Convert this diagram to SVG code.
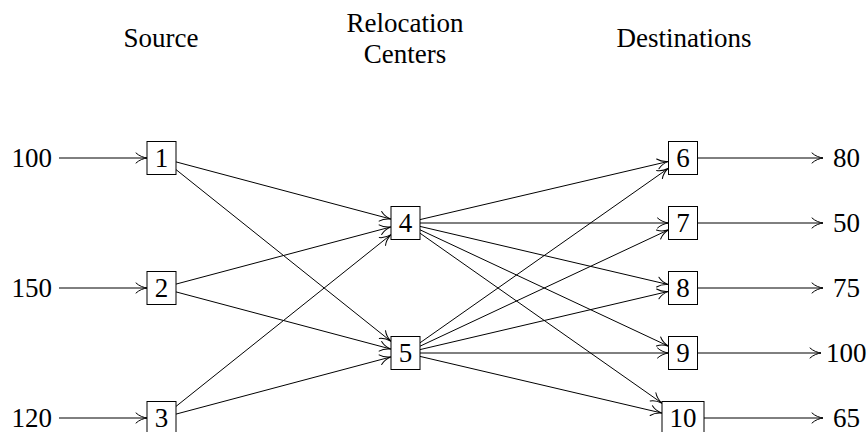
<svg xmlns="http://www.w3.org/2000/svg" width="868" height="432" viewBox="0 0 868 432">
  <style>
    .t { font-family: "Liberation Serif", "Times New Roman", serif; font-size: 27px; fill: #000; }
    .num { text-anchor: middle; }
    .hd { text-anchor: middle; }
    .box { fill: #fff; stroke: #000; stroke-width: 1; }
    .edge { stroke: #000; stroke-width: 1; fill: none; marker-end: url(#arr); }
  </style>
  <defs>
    <marker id="arr" markerUnits="userSpaceOnUse" viewBox="-12 -6 14 12" refX="0" refY="0" markerWidth="14" markerHeight="12" orient="auto">
      <path d="M -11,-5 C -8,-2 -3,-0.4 0,0 C -3,0.4 -8,2 -11,5" fill="none" stroke="#000" stroke-width="1" stroke-linecap="round"/>
    </marker>
  </defs>

  <g id="headings" class="t" font-family="Liberation Serif, Times New Roman, serif">
    <text class="hd" x="161" y="47">Source</text>
    <text class="hd" x="405" y="32">Relocation</text>
    <text class="hd" x="405" y="63">Centers</text>
    <text class="hd" x="684" y="47">Destinations</text>
  </g>

  <g id="connectors">
    <line class="edge" x1="59" y1="158" x2="147" y2="158"/>
    <line class="edge" x1="59" y1="288" x2="147" y2="288"/>
    <line class="edge" x1="59" y1="418" x2="147" y2="418"/>
    <line class="edge" x1="176" y1="161.9" x2="391" y2="219.1"/>
    <line class="edge" x1="176" y1="169.6" x2="391" y2="341.4"/>
    <line class="edge" x1="176" y1="284.1" x2="391" y2="226.9"/>
    <line class="edge" x1="176" y1="291.9" x2="391" y2="349.1"/>
    <line class="edge" x1="176" y1="406.4" x2="391" y2="234.6"/>
    <line class="edge" x1="176" y1="414.1" x2="391" y2="356.9"/>
    <line class="edge" x1="420" y1="219.6" x2="668.5" y2="161.4"/>
    <line class="edge" x1="420" y1="223" x2="668.5" y2="223"/>
    <line class="edge" x1="420" y1="226.4" x2="668.5" y2="284.6"/>
    <line class="edge" x1="420" y1="229.8" x2="668.5" y2="346.2"/>
    <line class="edge" x1="420" y1="233.2" x2="662" y2="403.2"/>
    <line class="edge" x1="420" y1="342.8" x2="668.5" y2="168.2"/>
    <line class="edge" x1="420" y1="346.2" x2="668.5" y2="229.8"/>
    <line class="edge" x1="420" y1="349.6" x2="668.5" y2="291.4"/>
    <line class="edge" x1="420" y1="353" x2="668.5" y2="353"/>
    <line class="edge" x1="420" y1="356.4" x2="662" y2="413.1"/>
    <line class="edge" x1="698" y1="158" x2="823" y2="158"/>
    <line class="edge" x1="698" y1="223" x2="823" y2="223"/>
    <line class="edge" x1="698" y1="288" x2="823" y2="288"/>
    <line class="edge" x1="698" y1="353" x2="821" y2="353"/>
    <line class="edge" x1="704" y1="418" x2="823" y2="418"/>
  </g>

  <g id="supply-labels" class="t" font-family="Liberation Serif, Times New Roman, serif">
    <text x="52" y="167" text-anchor="end">100</text>
    <text x="52" y="297" text-anchor="end">150</text>
    <text x="52" y="427" text-anchor="end">120</text>
  </g>
  <g id="demand-labels" class="t" font-family="Liberation Serif, Times New Roman, serif">
    <text x="860" y="167" text-anchor="end">80</text>
    <text x="860" y="232" text-anchor="end">50</text>
    <text x="860" y="297" text-anchor="end">75</text>
    <text x="826" y="362">100</text>
    <text x="860" y="427" text-anchor="end">65</text>
  </g>

  <g id="n1" class="t" font-family="Liberation Serif, Times New Roman, serif"><rect class="box" x="147" y="141.5" width="29" height="33"/><text class="num" x="161.5" y="167">1</text></g>
  <g id="n2" class="t" font-family="Liberation Serif, Times New Roman, serif"><rect class="box" x="147" y="271.5" width="29" height="33"/><text class="num" x="161.5" y="297">2</text></g>
  <g id="n3" class="t" font-family="Liberation Serif, Times New Roman, serif"><rect class="box" x="147" y="401.5" width="29" height="33"/><text class="num" x="161.5" y="427">3</text></g>
  <g id="n4" class="t" font-family="Liberation Serif, Times New Roman, serif"><rect class="box" x="391" y="206.5" width="29" height="33"/><text class="num" x="405.5" y="232">4</text></g>
  <g id="n5" class="t" font-family="Liberation Serif, Times New Roman, serif"><rect class="box" x="391" y="336.5" width="29" height="33"/><text class="num" x="405.5" y="362">5</text></g>
  <g id="n6" class="t" font-family="Liberation Serif, Times New Roman, serif"><rect class="box" x="668.5" y="141.5" width="29" height="33"/><text class="num" x="683" y="167">6</text></g>
  <g id="n7" class="t" font-family="Liberation Serif, Times New Roman, serif"><rect class="box" x="668.5" y="206.5" width="29" height="33"/><text class="num" x="683" y="232">7</text></g>
  <g id="n8" class="t" font-family="Liberation Serif, Times New Roman, serif"><rect class="box" x="668.5" y="271.5" width="29" height="33"/><text class="num" x="683" y="297">8</text></g>
  <g id="n9" class="t" font-family="Liberation Serif, Times New Roman, serif"><rect class="box" x="668.5" y="336.5" width="29" height="33"/><text class="num" x="683" y="362">9</text></g>
  <g id="n10" class="t" font-family="Liberation Serif, Times New Roman, serif"><rect class="box" x="662" y="401.5" width="42" height="33"/><text class="num" x="683" y="427">10</text></g>
</svg>
